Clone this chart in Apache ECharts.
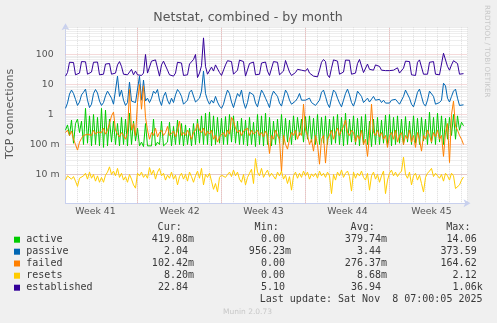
<!DOCTYPE html>
<html>
<head>
<meta charset="utf-8">
<script src="https://cdn.jsdelivr.net/npm/echarts@6/dist/echarts.min.js"></script>
<style>
  html, body { margin: 0; padding: 0; background: #f0f0f0; }
  #chart { width: 497px; height: 323px; }
</style>
</head>
<body>
<div id="chart"></div>
<script>
// Netstat, combined - by month (2-hour consolidation, one value every 4 hours here)
const HOURS_PER_SAMPLE = 4;
const SPAN_HOURS = 804;

const WEEK_LABELS = ['Week 41', 'Week 42', 'Week 43', 'Week 44', 'Week 45'];
const WEEK_LABEL_HOURS = [60, 228, 396, 564, 732];
const WEEK_START_HOURS = [144, 312, 480, 648];

const Y_TICKS = [0.01, 0.1, 1, 10, 100];
const Y_TICK_LABELS = ['10 m', '100 m', '1  ', '10  ', '100  '];

const SERIES_NAMES = ['active', 'passive', 'failed', 'resets', 'established'];
const CUR = ['419.08m', '2.04', '102.42m', '8.20m', '22.84'];
const MIN = ['0.00', '956.23m', '0.00', '0.00', '5.10'];
const AVG = ['379.74m', '3.44', '276.37m', '8.68m', '36.94'];
const MAX = ['14.06', '373.59', '164.62', '2.12', '1.06k'];
const LAST_UPDATE = 'Last update: Sat Nov  8 07:00:05 2025';

// one row per day, six samples per day
const active = [
  0.3, 0.45, 0.2, 0.65, 0.11, 0.5,
  0.7, 0.25, 0.6, 0.1, 1.6, 0.11,
  0.9, 0.09, 1.0, 0.1, 0.8, 0.09,
  1.6, 0.08, 1.4, 0.09, 0.7, 0.12,
  0.6, 0.1, 0.5, 0.09, 0.8, 0.1,
  0.7, 0.09, 1.1, 0.1, 0.6, 0.13,
  0.35, 0.09, 0.12, 0.085, 0.5, 0.09,
  0.1, 0.09, 0.7, 0.09, 0.12, 0.1,
  0.6, 0.09, 0.1, 0.12, 0.55, 0.09,
  0.4, 0.1, 0.65, 0.1, 0.5, 0.09,
  0.45, 0.1, 0.35, 0.09, 0.5, 0.1,
  0.7, 0.11, 0.9, 0.1, 1.1, 0.1,
  1.2, 0.09, 0.9, 0.1, 0.8, 0.11,
  0.75, 0.1, 0.85, 0.1, 1.0, 0.12,
  0.9, 0.11, 0.6, 0.1, 0.75, 0.1,
  0.65, 0.09, 0.8, 0.1, 0.55, 0.085,
  1.0, 0.1, 0.9, 0.09, 1.1, 0.1,
  0.8, 0.09, 0.6, 0.1, 0.7, 0.11,
  1.0, 0.1, 0.75, 0.12, 0.65, 0.1,
  0.9, 0.14, 0.8, 0.2, 0.7, 0.12,
  0.85, 0.15, 0.9, 0.12, 0.75, 0.1,
  1.0, 0.1, 0.8, 0.11, 0.9, 0.1,
  0.7, 0.1, 0.85, 0.11, 1.0, 0.1,
  0.8, 0.09, 1.1, 0.1, 0.7, 0.12,
  0.9, 0.1, 0.75, 0.09, 0.85, 0.1,
  1.0, 0.1, 0.6, 0.085, 0.7, 0.1,
  0.8, 0.1, 0.65, 0.11, 0.95, 0.1,
  1.0, 0.09, 0.8, 0.1, 0.9, 0.11,
  0.7, 0.1, 0.85, 0.12, 0.6, 0.1,
  0.9, 0.11, 0.75, 0.1, 0.8, 0.13,
  0.7, 0.1, 1.2, 0.11, 0.8, 0.1,
  1.1, 0.12, 0.9, 0.1, 0.75, 0.15,
  0.8, 0.2, 1.0, 0.15, 0.9, 0.3,
  0.55, 0.42
];

const passive = [
  1.6, 2.4, 4.8, 6.5, 5.0, 3.2,
  2.0, 2.6, 4.5, 5.5, 7.0, 3.0,
  1.7, 2.2, 5.0, 6.8, 5.2, 2.8,
  2.0, 2.5, 4.2, 6.0, 5.5, 3.5,
  2.2, 2.4, 19, 4.0, 6.5, 3.0,
  2.0, 2.5, 12, 2.8, 3.0, 2.5,
  2.2, 19, 3.0, 14, 2.8, 3.5,
  2.5, 3.5, 6.0, 5.0, 6.8, 3.0,
  2.0, 4.0, 5.5, 3.0, 2.2, 3.5,
  2.5, 4.5, 6.8, 5.5, 4.0, 2.2,
  1.9, 3.0, 5.5, 6.5, 7.0, 2.6,
  2.4, 3.5, 6.0, 28, 5.0, 3.0,
  2.2, 3.0, 2.4, 4.0, 2.6, 1.9,
  1.6, 2.2, 4.0, 6.5, 5.0, 2.6,
  1.7, 3.0, 5.0, 4.0, 6.5, 2.6,
  1.6, 2.5, 5.5, 6.0, 4.5, 2.4,
  1.8, 3.5, 6.5, 5.0, 3.5, 2.5,
  1.7, 4.0, 6.0, 6.8, 4.0, 2.4,
  1.9, 3.5, 6.5, 5.0, 3.0, 2.2,
  2.0, 2.8, 3.5, 5.0, 3.0, 2.6,
  3.0, 2.6, 3.5, 2.5, 2.2, 2.0,
  1.8, 3.0, 5.5, 6.5, 4.0, 2.3,
  1.7, 3.5, 6.5, 5.5, 3.5, 2.4,
  1.8, 3.0, 5.0, 7.0, 4.5, 2.5,
  1.9, 3.0, 6.0, 6.5, 4.0, 2.5,
  2.2, 3.5, 2.6, 3.0, 4.0, 3.0,
  2.8, 3.2, 2.5, 3.0, 2.4, 2.6,
  2.4, 3.0, 2.6, 3.2, 2.8, 2.2,
  2.0, 4.0, 6.5, 6.0, 3.5, 2.2,
  1.8, 3.0, 5.5, 7.0, 4.0, 2.3,
  1.9, 3.0, 6.0, 5.5, 4.0, 2.2,
  2.2, 2.5, 3.0, 11, 9.0, 3.5,
  2.6, 4.0, 6.0, 7.0, 3.5, 2.0,
  1.8, 2.1
];

const failed = [
  0.25, 0.3, 0.2, 0.28, 0.15, 0.1,
  0.065, 0.12, 0.16, 0.2, 0.18, 0.22,
  0.25, 0.2, 0.3, 0.22, 0.26, 0.3,
  0.25, 0.35, 0.22, 0.3, 0.5, 0.9,
  1.2, 0.3, 0.22, 0.18, 0.25, 0.2,
  0.15, 0.25, 6.8, 0.3, 0.5, 0.2,
  2.5, 10, 1.5, 9.0, 0.8, 0.3,
  0.15, 0.25, 0.2, 0.35, 0.18, 0.25,
  0.3, 0.2, 0.25, 0.4, 0.2, 0.22,
  0.28, 0.18, 0.3, 0.6, 0.2, 0.25,
  0.2, 0.3, 0.22, 0.15, 0.25, 0.3,
  0.5, 0.3, 0.25, 0.35, 0.2, 0.28,
  0.22, 0.3, 0.15, 0.2, 0.12, 0.18,
  0.2, 0.25, 0.18, 0.3, 0.22, 0.8,
  0.6, 0.35, 0.25, 0.3, 0.2, 0.28,
  0.25, 0.35, 0.2, 0.3, 0.22, 0.25,
  0.3, 0.2, 0.25, 0.18, 0.28, 0.2,
  0.05, 0.2, 0.15, 0.3, 0.2, 0.15,
  0.012, 0.2, 0.1, 0.07, 0.15, 0.25,
  0.2, 0.3, 0.15, 0.25, 0.2, 2.2,
  0.3, 0.2, 0.1, 0.15, 0.06, 0.2,
  0.1, 0.022, 0.15, 0.2, 0.024, 0.15,
  0.2, 0.3, 0.15, 0.25, 0.35, 0.2,
  0.3, 0.4, 0.65, 0.25, 0.2, 0.3,
  0.25, 0.12, 0.2, 0.15, 0.3, 0.1,
  0.15, 0.04, 0.2, 2.2, 0.25, 0.2,
  0.3, 0.18, 0.25, 0.15, 0.2, 0.08,
  0.2, 0.25, 0.15, 0.3, 0.12, 0.2,
  0.25, 0.1, 0.2, 0.15, 0.3, 0.12,
  0.2, 0.08, 0.25, 0.15, 0.06, 0.2,
  0.15, 0.3, 0.2, 0.12, 0.25, 0.18,
  0.3, 0.15, 0.2, 0.04, 0.25, 0.5,
  0.025, 1.0, 2.8, 0.4, 0.3, 0.2,
  0.15, 0.1
];

const resets = [
  0.0065, 0.009, 0.0095, 0.007, 0.0085, 0.006,
  0.004, 0.0075, 0.0065, 0.009, 0.011, 0.007,
  0.012, 0.0075, 0.01, 0.006, 0.009, 0.0055,
  0.008, 0.0055, 0.0095, 0.012, 0.018, 0.01,
  0.013, 0.009, 0.016, 0.008, 0.011, 0.0065,
  0.0085, 0.0055, 0.01, 0.007, 0.0045, 0.0035,
  0.011, 0.009, 0.012, 0.008, 0.01, 0.0075,
  0.017, 0.01, 0.014, 0.007, 0.012, 0.016,
  0.009, 0.011, 0.0065, 0.0095, 0.0075, 0.012,
  0.007, 0.0095, 0.0045, 0.0085, 0.011, 0.007,
  0.01, 0.006, 0.012, 0.0085, 0.0055, 0.009,
  0.013, 0.0075, 0.016, 0.0045, 0.01, 0.008,
  0.011, 0.006, 0.0032, 0.005, 0.0026, 0.008,
  0.0095, 0.011, 0.008, 0.01, 0.012, 0.0085,
  0.014, 0.009, 0.012, 0.007, 0.0055, 0.01,
  0.0045, 0.008, 0.011, 0.015, 0.005, 0.034,
  0.012, 0.009, 0.016, 0.008, 0.011, 0.014,
  0.0085, 0.011, 0.0095, 0.007, 0.012, 0.009,
  0.013, 0.007, 0.0095, 0.005, 0.0085, 0.003,
  0.009, 0.012, 0.0075, 0.011, 0.008, 0.013,
  0.009, 0.012, 0.007, 0.0105, 0.0085, 0.011,
  0.0075, 0.013, 0.009, 0.011, 0.008, 0.012,
  0.009, 0.0023, 0.01, 0.0065, 0.012, 0.009,
  0.014, 0.008, 0.011, 0.013, 0.0085, 0.0028,
  0.012, 0.0075, 0.011, 0.009, 0.013, 0.008,
  0.0065, 0.011, 0.003, 0.009, 0.012, 0.007,
  0.01, 0.0055, 0.009, 0.013, 0.0023, 0.0065,
  0.011, 0.014, 0.009, 0.012, 0.0085, 0.011,
  0.013, 0.038, 0.01, 0.0075, 0.012, 0.0045,
  0.009, 0.011, 0.0065, 0.0095, 0.005, 0.0026,
  0.008, 0.011, 0.013, 0.016, 0.0085, 0.011,
  0.012, 0.0075, 0.01, 0.006, 0.011, 0.009,
  0.0065, 0.011, 0.009, 0.0034, 0.0036, 0.0045,
  0.0065, 0.0082
];

const established = [
  19, 25, 55, 56, 54, 21,
  19, 24, 58, 60, 57, 22,
  20, 26, 55, 54, 56, 21,
  19, 22, 48, 52, 50, 22,
  20, 24, 45, 58, 40, 22,
  19, 21, 24, 32, 21, 28,
  21, 19, 20, 24, 100, 24,
  24, 60, 53, 66, 58, 19,
  45, 60, 58, 30, 21, 19,
  19, 24, 55, 55, 52, 20,
  20, 21, 48, 52, 68, 100,
  17, 24, 42, 358, 40, 22,
  24, 38, 28, 45, 52, 25,
  20, 19, 45, 62, 66, 58,
  22, 19, 30, 65, 66, 58,
  19, 20, 50, 58, 56, 21,
  20, 22, 52, 60, 56, 28,
  20, 19, 58, 62, 55, 21,
  20, 28, 63, 65, 26, 20,
  20, 25, 32, 36, 30, 33,
  28, 34, 24, 21, 19, 16.7,
  18, 30, 55, 68, 58, 21,
  17, 35, 66, 68, 60, 22,
  21, 26, 65, 68, 64, 22,
  22, 24, 50, 68, 66, 25,
  24, 48, 32, 28, 30, 45,
  48, 40, 30, 28, 29, 28,
  29, 31, 30, 32, 36, 24,
  22, 35, 60, 66, 58, 21,
  19, 20, 55, 66, 64, 22,
  21, 22, 55, 60, 58, 22,
  22, 21, 24, 110, 128, 40,
  30, 45, 62, 60, 50, 22,
  22, 23
];

const SERIES_VALUES = [active, passive, failed, resets, established];
const COLORS = ['#00cc00', '#0066b3', '#ff8000', '#ffcc00', '#330099'];

const MONO = '"DejaVu Sans Mono", monospace';
const SANS = '"DejaVu Sans", sans-serif';

const toPairs = arr => arr.map((v, i) => [i * HOURS_PER_SAMPLE, v]);

// horizontal grid: decades in pink, 2..9 multiples in gray
const MAJOR = { color: '#eab4b4', type: [1, 1], width: 1 };
const MINOR = { color: '#dcdcdc', type: [1, 1], width: 1 };
const gridLines = [];
for (let e = -3; e <= 2; e++) {
  for (let k = 1; k <= 9; k++) {
    const v = k * Math.pow(10, e);
    if (v < 0.0011 || v > 810) continue;
    gridLines.push({ yAxis: v, lineStyle: k === 1 ? MAJOR : MINOR });
  }
}
WEEK_START_HOURS.forEach(h => gridLines.push({ xAxis: h, lineStyle: MAJOR }));

const axisColor = '#c8d0ee';

const series = [{
  type: 'line',
  data: [],
  silent: true,
  markLine: {
    z: 1,
    silent: true,
    symbol: 'none',
    label: { show: false },
    animation: false,
    data: gridLines
  }
}].concat(SERIES_VALUES.map((vals, i) => ({
  name: SERIES_NAMES[i],
  type: 'line',
  data: toPairs(vals),
  showSymbol: false,
  symbol: 'none',
  z: 2,
  lineStyle: { color: COLORS[i], width: 1 },
  itemStyle: { color: COLORS[i] }
})));

// legend block and surrounding texts
const graphic = [];
const addText = (text, x, y, opts) => graphic.push({
  type: 'text', x, y, silent: true,
  rotation: opts.rotation || 0,
  style: Object.assign({
    text, fill: '#3a3a3a', font: '10px ' + MONO,
    align: 'left', verticalAlign: 'middle'
  }, opts.style || {})
});

addText('Netstat, combined - by month', 248, 18,
  { style: { font: '12.6px ' + SANS, fill: '#555', align: 'center' } });
addText('TCP connections', 10.5, 114,
  { rotation: Math.PI / 2, style: { font: '11px ' + SANS, fill: '#555', align: 'center' } });
addText('RRDTOOL / TOBI OETIKER', 487, 5,
  { rotation: -Math.PI / 2, style: { font: '7.2px ' + SANS, fill: '#c8c8c8', align: 'left' } });

const COL_RIGHT = [194, 291, 387, 482.7];
const HEADERS = ['Cur:', 'Min:', 'Avg:', 'Max:'];
HEADERS.forEach((h, c) => addText(h, COL_RIGHT[c] - 12.3, 227.5, { style: { align: 'right' } }));

const withUnit = s => /[a-z]$/i.test(s) ? s : s + ' ';
const ROW_Y = [239.7, 251.7, 263.5, 275.7, 287.7];
SERIES_NAMES.forEach((name, r) => {
  graphic.push({
    type: 'rect', silent: true,
    shape: { x: 14, y: ROW_Y[r] - 3, width: 6, height: 6 },
    style: { fill: COLORS[r] }
  });
  addText(name, 26.3, ROW_Y[r], {});
  [CUR, MIN, AVG, MAX].forEach((col, c) =>
    addText(withUnit(col[r]), COL_RIGHT[c], ROW_Y[r], { style: { align: 'right' } }));
});
addText(LAST_UPDATE, 482.5, 299.7, { style: { align: 'right' } });
addText('Munin 2.0.73', 247.5, 312.3,
  { style: { font: '7.5px ' + SANS, fill: '#c8c8c8', align: 'center' } });

const chart = echarts.init(document.getElementById('chart'), null, { renderer: 'canvas' });
chart.setOption({
  animation: false,
  backgroundColor: '#f0f0f0',
  grid: {
    left: 65.5, right: 29.5, top: 27.2, bottom: 119.8,
    show: true, backgroundColor: '#ffffff', borderWidth: 0
  },
  xAxis: [{
    type: 'value', min: 0, max: SPAN_HOURS, interval: 12,
    position: 'bottom',
    axisLine: {
      show: true, symbol: ['none', 'arrow'], symbolSize: [6, 7], symbolOffset: [0, 3],
      lineStyle: { color: axisColor, width: 1 }
    },
    axisTick: { show: false },
    splitLine: { show: false },
    axisLabel: {
      margin: 4, fontSize: 9.33, fontFamily: SANS, color: '#555',
      showMinLabel: true, showMaxLabel: true,
      formatter: v => {
        const i = WEEK_LABEL_HOURS.indexOf(Math.round(v));
        return i >= 0 ? WEEK_LABELS[i] : '';
      }
    }
  }, {
    type: 'value', min: 0, max: SPAN_HOURS, interval: 24,
    axisLine: { show: false }, axisTick: { show: false }, axisLabel: { show: false },
    splitLine: { show: true, lineStyle: MINOR }
  }],
  yAxis: {
    type: 'log', logBase: 10, min: 0.001104, max: 812, splitNumber: 6,
    axisLine: {
      show: true, symbol: ['none', 'arrow'], symbolSize: [6, 7], symbolOffset: [0, 4],
      lineStyle: { color: axisColor, width: 1 }
    },
    axisTick: { show: false },
    splitLine: { show: false },
    axisLabel: {
      margin: 6, fontSize: 9.33, fontFamily: SANS, color: '#555',
      formatter: v => {
        const e = Math.log10(v);
        if (Math.abs(e - Math.round(e)) > 1e-6) return '';
        const i = Y_TICKS.findIndex(t => Math.abs(Math.log10(t) - e) < 1e-6);
        return i >= 0 ? Y_TICK_LABELS[i] : '';
      }
    }
  },
  series,
  graphic
});
</script>
</body>
</html>
